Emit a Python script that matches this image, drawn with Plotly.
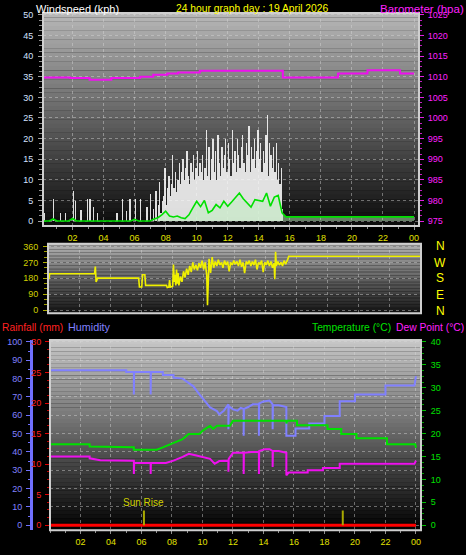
import plotly.graph_objects as go

W, H = 466, 555
FONT = "Liberation Sans, Arial"

title_text = "24 hour graph day : 19 April 2026"
hour_ticks = [2, 4, 6, 8, 10, 12, 14, 16, 18, 20, 22, 24]
hour_labels = ["02", "04", "06", "08", "10", "12", "14", "16", "18", "20", "22", "00"]

# ---------------- Windspeed (gusts, 5-minute samples from 00:00) ----------------
gust_step_min = 5
gust_kph = [
    0, 0, 2, 0, 0, 0, 0, 0, 0, 5.3, 0, 0,
    0, 0, 2, 0, 0, 0, 2, 0, 0, 0, 0, 0,
    7.2, 0, 5, 0, 0, 0, 2.6, 0, 0, 0, 0, 5.3,
    0, 5.3, 0, 0, 3.4, 0, 0, 2, 0, 0, 0, 0,
    0, 0, 0, 0, 0, 0, 0, 0, 0, 0, 2, 0,
    0, 0, 5.3, 0, 0, 2.5, 0, 0, 5.3, 0, 0, 0,
    5.3, 0, 0, 0, 5.3, 0, 0, 0, 0, 3.4, 0, 0,
    6.5, 0, 3, 0, 7.2, 0, 4, 9.6, 2, 5, 6, 12.8,
    4, 8, 11, 6, 9, 16, 8, 12, 7, 10, 14, 9,
    12, 15, 10, 13, 17, 11, 9, 14, 12, 16, 10, 13,
    17, 11, 14, 12, 16, 10, 13, 22, 11, 18, 10, 15,
    20, 12, 17, 10, 21, 14, 11, 18, 13, 16, 20, 12,
    19, 15, 11, 22, 14, 17, 12, 20, 16, 13, 18, 21,
    14, 12, 19, 16, 23, 12, 18, 15, 20, 13, 17, 22,
    15, 19, 12, 17, 14, 21, 25.7, 11, 19, 16, 13, 18,
    12, 19, 10, 14, 9, 13, 3, 0, 0, 0, 0, 0,
]
gust_hours = [(i + 0.5) * gust_step_min / 60 for i in range(len(gust_kph))]

# average wind speed, 15-minute samples from 00:00 to 24:00
avg_step_min = 15
avg_kph = [
    0, 0, 0, 0.5, 0, 0, 0, 0, 0.6, 0, 0, 0,
    0, 0, 0, 0, 0, 0, 0, 0, 0, 0, 0, 0,
    0.4, 0, 0, 0, 0, 0.5, 0.8, 1.5, 2.4, 1.2, 1.0, 1.2,
    0.8, 0.6, 1.5, 3.2, 4.8, 3.5, 5.0, 2.0, 2.6, 4.0, 3.2, 4.8,
    3.6, 4.6, 5.8, 6.8, 5.4, 4.5, 3.4, 5.2, 5.0, 4.8, 6.8, 3.6,
    5.8, 6.2, 2.0, 1.0, 1.0, 1.0, 1.0, 1.0, 1.0, 1.0, 1.0, 1.0,
    1.0, 1.0, 1.0, 1.0, 1.0, 1.0, 1.0, 1.0, 1.0, 1.0, 1.0, 1.0,
    1.0, 1.0, 1.0, 1.0, 1.0, 1.0, 1.0, 1.0, 1.0, 1.0, 1.0, 1.0,
    1.0,
]
avg_hours = [i * avg_step_min / 60 for i in range(len(avg_kph))]

# barometer (step changes)
baro_hours = [0, 1.85, 3.1, 4.5, 6.35, 7.2, 8.1, 8.8, 10.2, 15.55, 19.1, 21.0, 23.1, 24.0]
baro_hpa = [1009.85, 1009.7, 1009.3, 1009.7, 1010.0, 1010.5, 1010.8, 1011.05, 1011.45,
            1009.85, 1010.8, 1011.6, 1010.8, 1010.8]

# ---------------- Wind direction ----------------
dir_hours = [0.0, 0.05, 2.95, 3.0, 3.05, 3.15, 5.8, 5.85, 6.0, 6.05, 6.2, 6.25, 7.6, 7.65,
             7.75, 7.8, 7.85, 8.0, 8.05, 8.1, 8.15, 8.2, 8.25, 8.3, 8.35, 8.4, 8.5, 8.6,
             8.7, 8.8, 8.9, 9.0, 9.1, 9.2, 9.3, 9.4, 9.5, 9.6, 9.7, 9.8, 9.9, 10.0, 10.1,
             10.2, 10.25, 10.3, 10.35, 10.45, 10.55, 10.65, 10.75, 10.85, 10.95, 11.05,
             11.15, 11.25, 11.35, 11.45, 11.55, 11.65, 11.75, 11.85, 11.95, 12.05, 12.15,
             12.25, 12.35, 12.45, 12.55, 12.65, 12.75, 12.85, 12.95, 13.05, 13.15, 13.25,
             13.35, 13.45, 13.55, 13.65, 13.75, 13.85, 13.95, 14.05, 14.15, 14.25, 14.35,
             14.45, 14.55, 14.6, 14.65, 14.7, 14.8, 14.9, 15.0, 15.1, 15.2, 15.3, 15.4,
             15.45, 15.5, 24.0]
dir_deg = [175, 206, 206, 247, 160, 181, 181, 131, 131, 200, 200, 140, 140, 128,
           130, 170, 130, 135, 258, 160, 200, 140, 230, 150, 210, 140, 190, 160,
           220, 185, 235, 200, 250, 215, 270, 230, 255, 225, 265, 240, 280, 230, 270,
           200, 28, 150, 290, 210, 300, 240, 275, 250, 285, 255,
           270, 240, 280, 255, 275, 220, 270, 255, 280, 260, 275,
           250, 285, 245, 270, 210, 275, 260, 280, 250, 275, 255,
           285, 230, 270, 260, 280, 215, 270, 255, 280, 250, 275,
           240, 265, 175, 330, 250, 275, 255, 270, 250, 280, 260, 275,
           290, 305, 305]
dir_tick_vals = [0, 90, 180, 270, 360]
compass_labels = ["N", "W", "S", "E", "N"]

# ---------------- Bottom panel ----------------
hum_hours = [0, 5.0, 5.0, 5.5, 5.5, 5.52, 6.6, 6.6, 6.62, 7.4, 7.4, 8.1, 8.1, 8.7, 9.1, 9.4,
             9.8, 10.2, 10.5, 10.95, 11.1, 11.4, 11.7, 11.7, 11.72, 12.0, 12.3, 12.5, 12.7,
             12.7, 12.72, 13.0, 13.3, 13.7, 13.7, 13.72, 14.0, 14.4, 14.6, 14.6, 14.62,
             15.0, 15.5, 15.5, 16.1, 16.1, 17.0, 17.0, 18.0, 18.0, 19.0, 19.0, 20.0, 20.0,
             22.0, 22.0, 23.9, 24.0]
humidity = [84.5, 84.5, 83.6, 83.6, 71.4, 83.6, 83.6, 71.4, 83.6, 83.6, 82, 82, 80.5, 80,
            77.5, 75.8, 71.4, 67, 64.3, 62.3, 60.5, 62.5, 66, 52.4, 65, 63.2, 62.5, 64,
            63.5, 48.8, 63.5, 64.5, 66, 66, 48.8, 66.5, 67.5, 68, 66, 52.4, 65.5,
            65.5, 64.5, 48.8, 48.8, 52.8, 52.8, 55.5, 55.5, 59.6, 59.6, 67.7, 67.7, 71.4,
            71.4, 76.2, 76.2, 81.3]

temp_hours = [0, 2.6, 2.6, 5.5, 5.5, 7.0, 7.4, 7.9, 8.3, 8.7, 9.1, 9.8, 10.0, 10.5, 10.7,
              10.95, 11.8, 12.0, 15.5, 15.5, 15.55, 16.2, 16.2, 18.2, 18.2, 19.1, 19.1,
              20.1, 20.1, 22.1, 22.1, 23.95, 24.0]
temperature = [17.7, 17.7, 17.2, 17.0, 16.5, 16.5, 17.0, 17.7, 18.4, 18.8, 19.9, 19.9,
               20.6, 21.7, 21.0, 21.7, 21.7, 22.8, 22.8, 22.2, 22.8, 22.8, 21.8, 21.8,
               21.0, 21.0, 19.9, 19.9, 19.0, 19.0, 17.7, 17.7, 16.9]

dew_hours = [0, 2.6, 2.6, 3.3, 5.5, 5.5, 5.52, 6.6, 6.6, 6.62, 7.6, 8.1, 8.7, 9.1, 9.6,
             10.0, 10.5, 10.8, 11.1, 11.7, 11.7, 11.72, 12.0, 12.7, 12.7, 12.72, 13.2,
             13.7, 13.7, 13.72, 14.1, 14.4, 14.6, 14.6, 14.62, 15.0, 15.5, 15.5, 15.65,
             16.9, 16.9, 17.9, 17.9, 19.0, 19.0, 23.9, 24.0]
dew_point = [15.0, 15.0, 14.6, 14.2, 14.1, 11.2, 13.6, 13.6, 11.2, 13.6, 13.6, 14.1, 14.9,
             15.6, 15.2, 14.9, 14.5, 13.4, 14.0, 14.1, 11.7, 14.5, 15.8, 15.8, 11.2, 15.8,
             16.0, 16.0, 11.2, 16.2, 16.6, 16.6, 16.2, 12.7, 16.2, 16.2, 15.8, 10.9, 11.5,
             11.5, 12.0, 12.0, 12.5, 12.5, 13.4, 13.4, 14.1]

rain_hours = [0, 24]
rainfall_mm = [0, 0]

sun_hours = [6.16, 19.2]
sun_labels = ["Sun Rise", ""]


def px_x(x):
    return x / W


def px_y(y):
    return 1 - y / H


fig = go.Figure()

# top panel traces
fig.add_trace(go.Bar(x=gust_hours, y=gust_kph, width=gust_step_min / 60,
                     marker=dict(color="rgba(250,250,250,0.88)", line=dict(width=0)),
                     xaxis="x", yaxis="y", hoverinfo="skip"))
fig.add_trace(go.Scatter(x=avg_hours, y=avg_kph, mode="lines", fill="tozeroy",
                         fillcolor="rgba(190,240,190,0.5)", line=dict(width=0),
                         xaxis="x", yaxis="y", hoverinfo="skip"))
fig.add_trace(go.Scatter(x=avg_hours, y=avg_kph, mode="lines",
                         line=dict(color="#00e000", width=1.6),
                         xaxis="x", yaxis="y"))
fig.add_trace(go.Scatter(x=baro_hours, y=baro_hpa, mode="lines",
                         line=dict(color="#ee10ee", width=2, shape="hv"),
                         xaxis="x", yaxis="y2"))

# middle panel
fig.add_trace(go.Scatter(x=dir_hours, y=dir_deg, mode="lines",
                         line=dict(color="#f0f000", width=1.6),
                         xaxis="x2", yaxis="y3"))

# bottom panel
fig.add_trace(go.Scatter(x=rain_hours, y=rainfall_mm, mode="lines",
                         line=dict(color="#ff0000", width=3), xaxis="x3", yaxis="y5"))
fig.add_trace(go.Scatter(x=hum_hours, y=humidity, mode="lines",
                         line=dict(color="#8080ff", width=2), xaxis="x3", yaxis="y4"))
fig.add_trace(go.Scatter(x=temp_hours, y=temperature, mode="lines",
                         line=dict(color="#00e000", width=2), xaxis="x3", yaxis="y6"))
fig.add_trace(go.Scatter(x=dew_hours, y=dew_point, mode="lines",
                         line=dict(color="#ee10ee", width=2), xaxis="x3", yaxis="y6"))

top_x = [px_x(43), px_x(419)]
top_y = [px_y(225), px_y(10)]
mid_x = [px_x(48), px_x(421)]
mid_y = [px_y(313), px_y(243)]
bot_x = [px_x(50), px_x(421)]
bot_y = [px_y(532), px_y(340)]

grid = dict(showgrid=True, gridcolor="rgba(215,215,215,0.45)", griddash="dot", gridwidth=1)
TS = 9

xcommon = dict(tickvals=hour_ticks, ticktext=hour_labels, ticks="outside", ticklen=3,
               tickcolor="#909090", zeroline=False, showline=False,
               tickfont=dict(family=FONT, size=TS, color="#e0e000"), **grid)

fig.update_layout(
    width=W, height=H, margin=dict(l=0, r=0, t=0, b=0),
    paper_bgcolor="#000000", plot_bgcolor="rgba(0,0,0,0)",
    showlegend=False, bargap=0,
    xaxis=dict(domain=top_x, range=[0.1, 24.32], anchor="y", **xcommon,
               minor=dict(dtick=1, ticks="outside", ticklen=2, tickcolor="#909090")),
    yaxis=dict(domain=top_y, range=[-1.2, 50.5], anchor="x", tickvals=list(range(0, 51, 5)),
               ticks="outside", ticklen=4, tickcolor="#a0a0a0", zeroline=False,
               tickfont=dict(family=FONT, size=TS, color="#d4e2ff"), ticklabelstandoff=3,
               minor=dict(dtick=1.25, ticks="outside", ticklen=3, tickcolor="#909090"),
               **grid),
    yaxis2=dict(range=[973.8, 1025.5], overlaying="y", side="right", anchor="x",
                tickvals=list(range(975, 1026, 5)), ticks="outside", ticklen=4,
                tickcolor="#e020e0", showgrid=False, zeroline=False,
                tickfont=dict(family=FONT, size=TS, color="#ff20ff"), ticklabelstandoff=2,
                minor=dict(dtick=1.25, ticks="outside", ticklen=2, tickcolor="#c020c0")),
    xaxis2=dict(domain=mid_x, range=[-0.06, 24.05], anchor="y3", showticklabels=False,
                tickvals=hour_ticks, ticks="", zeroline=False, showline=False, **grid),
    yaxis3=dict(domain=mid_y, range=[-16.8, 375], anchor="x2", tickvals=dir_tick_vals,
                ticks="outside", ticklen=4, tickcolor="#b0b000", zeroline=False,
                tickfont=dict(family=FONT, size=TS, color="#d0d000"), ticklabelstandoff=3,
                minor=dict(dtick=30, ticks="outside", ticklen=3, tickcolor="#a0a000"),
                **grid),
    xaxis3=dict(domain=bot_x, range=[0, 24.33], anchor="y5", **xcommon,
                minor=dict(dtick=1, ticks="outside", ticklen=2, tickcolor="#909090")),
    yaxis4=dict(domain=bot_y, range=[-2.7, 101.1], anchor="free", position=px_x(31),
                tickvals=list(range(0, 101, 10)), ticks="outside", ticklen=4,
                tickcolor="#7070ff", showline=True, linecolor="#7070ff", linewidth=3,
                zeroline=False, tickfont=dict(family=FONT, size=TS, color="#8080ff"),
                ticklabelstandoff=2,
                minor=dict(dtick=5, ticks="outside", ticklen=2, tickcolor="#7070ff"),
                **grid),
    yaxis5=dict(range=[-0.81, 30.32], overlaying="y4", anchor="x3", side="left",
                tickvals=list(range(0, 31, 5)), ticks="outside", ticklen=4,
                tickcolor="#e00000", showgrid=False, zeroline=False,
                tickfont=dict(family=FONT, size=TS, color="#ff2020"), ticklabelstandoff=2,
                minor=dict(dtick=1.25, ticks="outside", ticklen=2, tickcolor="#c00000")),
    yaxis6=dict(range=[-1.08, 40.43], overlaying="y4", anchor="x3", side="right",
                tickvals=list(range(0, 41, 5)), ticks="outside", ticklen=4,
                tickcolor="#00c000", showgrid=False, zeroline=False,
                tickfont=dict(family=FONT, size=TS, color="#00e000"), ticklabelstandoff=3,
                minor=dict(dtick=1.25, ticks="outside", ticklen=2, tickcolor="#00a000")),
)

shapes = []


def gradient(xref, yref, top, bot, n=48):
    for i in range(n):
        f = (i + 0.5) / n
        c = [round(top[k] + (bot[k] - top[k]) * f) for k in range(3)]
        shapes.append(dict(type="rect", xref=xref, yref=yref, x0=0, x1=1,
                           y0=1 - (i + 1) / n, y1=1 - i / n + 0.001,
                           fillcolor=f"rgb({c[0]},{c[1]},{c[2]})",
                           line=dict(width=0), layer="below"))
    shapes.append(dict(type="rect", xref=xref, yref=yref, x0=0, x1=1, y0=0, y1=1,
                       line=dict(color="#cfcfcf", width=2), layer="above"))


gradient("x domain", "y domain", (184, 184, 184), (10, 10, 10))
gradient("x2 domain", "y3 domain", (178, 178, 178), (20, 20, 20))
gradient("x3 domain", "y4 domain", (200, 200, 200), (0, 0, 0))

# sunrise / sunset markers
for h in sun_hours:
    shapes.append(dict(type="line", xref="x3", yref="y4", x0=h, x1=h, y0=0, y1=8.1,
                       line=dict(color="#a8a800", width=2), layer="above"))

fig.update_layout(shapes=shapes)

ann = []


def text(x, y, s, color, size=10.5, xanchor="left"):
    ann.append(dict(x=px_x(x), y=px_y(y), xref="paper", yref="paper", text=s,
                    showarrow=False, xanchor=xanchor, yanchor="middle",
                    font=dict(family=FONT, size=size, color=color)))


text(34, 6, "Windspeed (kph)", "#ffffff", size=11)
text(252, 6, title_text, "#ffff00", size=10.3, xanchor="center")
text(466, 6, "Barometer (hpa)", "#ff20ff", size=11.5, xanchor="right")

compass_y = [245, 262, 278, 295, 311]
for lab, yy in zip(compass_labels, compass_y):
    text(440, yy, lab, "#ffff00", size=12, xanchor="center")

text(0, 327, "Rainfall (mm)", "#ff2020", size=10.3)
text(66, 327, "Humidity", "#8080ff", size=10.8)
text(466, 327, "Dew Point (°C)", "#ff20ff", size=10.3, xanchor="right")
text(393, 327, "Temperature (°C)", "#00e000", size=10.3, xanchor="right")

for h, lab in zip(sun_hours, sun_labels):
    if lab:
        ann.append(dict(x=h, y=8.5, xref="x3", yref="y4", text=lab, showarrow=False,
                        xanchor="center", yanchor="bottom",
                        font=dict(family=FONT, size=10, color="#d0d000")))

fig.update_layout(annotations=ann)

fig.write_html("out.html", config={"displayModeBar": False},
               post_script="document.body.style.margin='0';document.body.style.overflow='hidden';")
